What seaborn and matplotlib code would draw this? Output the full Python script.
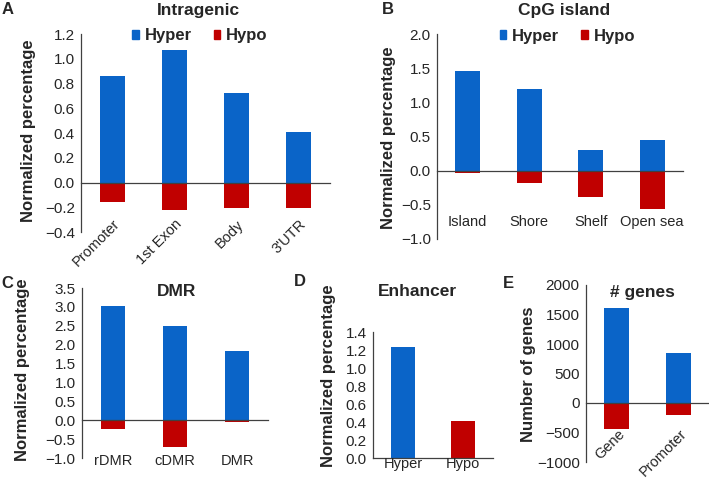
import numpy as np
import matplotlib
matplotlib.use('Agg')
import matplotlib.pyplot as plt
from matplotlib.patches import Patch
from matplotlib.ticker import FuncFormatter
import seaborn as sns

# data
intragenic_cats = ['Promoter', '1st Exon', 'Body', "3'UTR"]
intragenic_hyper = [0.86, 1.07, 0.72, 0.41]
intragenic_hypo = [-0.16, -0.22, -0.21, -0.21]

cpg_cats = ['Island', 'Shore', 'Shelf', 'Open sea']
cpg_hyper = [1.46, 1.19, 0.30, 0.45]
cpg_hypo = [-0.03, -0.18, -0.39, -0.56]

dmr_cats = ['rDMR', 'cDMR', 'DMR']
dmr_hyper = [3.02, 2.50, 1.82]
dmr_hypo = [-0.24, -0.71, -0.05]

enh_cats = ['Hyper', 'Hypo']
enh_vals = [1.23, 0.41]

gene_cats = ['Gene', 'Promoter']
gene_hyper = [1610, 840]
gene_hypo = [-440, -200]

BLUE = '#0A64C8'
RED = '#C00000'
AXC = '#404040'

sns.set_style('white')
plt.rcParams['font.family'] = ['Liberation Sans', 'DejaVu Sans']

W, H = 709, 480
fig = plt.figure(figsize=(W / 100, H / 100), dpi=100)


def px_axes(l, t, r, b):
    return fig.add_axes([l / W, 1 - b / H, (r - l) / W, (b - t) / H])


def fig_text(x, y, s, **kw):
    fig.text(x / W, 1 - y / H, s, **kw)


def style(ax, n, ylim, step, fmt):
    ax.set_xlim(-0.5, n - 0.5)
    ax.set_ylim(*ylim)
    ax.set_yticks(np.arange(ylim[0], ylim[1] + step / 2, step))
    ax.yaxis.set_major_formatter(
        FuncFormatter(lambda v, p: fmt.format(v + 0.0).replace('-', '\u2212')))
    ax.set_xticks(np.arange(-0.5, n, 1.0))
    ax.set_xticklabels([])
    for s in ['top', 'right']:
        ax.spines[s].set_visible(False)
    ax.spines['bottom'].set_position(('data', 0))
    for s in ['left', 'bottom']:
        ax.spines[s].set_color(AXC)
        ax.spines[s].set_linewidth(0.9)
    ax.tick_params(axis='both', direction='out', length=3, width=0.8, color=AXC,
                   labelsize=11, pad=1.5)
    ax.set_xlabel('')
    ax.set_ylabel('')


def cat_labels(ax, cats, dy, rot=0, dx=0):
    for i, c in enumerate(cats):
        if rot:
            ax.annotate(c, (i, 0), xycoords=('data', 'axes fraction'),
                        xytext=(dx, dy), textcoords='offset pixels',
                        rotation=rot, rotation_mode='anchor',
                        ha='right', va='center', fontsize=10.5)
        else:
            ax.annotate(c, (i, 0), xycoords=('data', 'axes fraction'),
                        xytext=(0, dy), textcoords='offset pixels',
                        ha='center', va='center', fontsize=10.5)


def legend(ax, x):
    handles = [Patch(color=BLUE, label='Hyper'), Patch(color=RED, label='Hypo')]
    ax.legend(handles=handles, loc='center', bbox_to_anchor=(x, 0.99), ncol=2,
              frameon=False, handlelength=0.4, handleheight=0.4,
              handletextpad=0.35, columnspacing=1.3,
              prop={'weight': 'bold', 'size': 12})


bar_kw = dict(width=0.4, saturation=1, linewidth=0)

# A: intragenic
axA = px_axes(81, 34, 330, 232)
sns.barplot(x=intragenic_cats, y=intragenic_hyper, color=BLUE, ax=axA, **bar_kw)
sns.barplot(x=intragenic_cats, y=intragenic_hypo, color=RED, ax=axA, **bar_kw)
style(axA, 4, (-0.4, 1.2), 0.2, '{:.1f}')
cat_labels(axA, intragenic_cats, 10, rot=45, dx=5)
legend(axA, 0.478)

# B: CpG island
axB = px_axes(437, 34, 683, 239)
sns.barplot(x=cpg_cats, y=cpg_hyper, color=BLUE, ax=axB, **bar_kw)
sns.barplot(x=cpg_cats, y=cpg_hypo, color=RED, ax=axB, **bar_kw)
style(axB, 4, (-1.0, 2.0), 0.5, '{:.1f}')
cat_labels(axB, cpg_cats, 17)
legend(axB, 0.53)

# C: DMR
axC = px_axes(82, 288, 268, 458)
sns.barplot(x=dmr_cats, y=dmr_hyper, color=BLUE, ax=axC, **bar_kw)
sns.barplot(x=dmr_cats, y=dmr_hypo, color=RED, ax=axC, **bar_kw)
style(axC, 3, (-1.0, 3.5), 0.5, '{:.1f}')
cat_labels(axC, dmr_cats, -3)

# D: enhancer
axD = px_axes(373, 332, 493, 458)
sns.barplot(x=enh_cats, y=enh_vals, hue=enh_cats, palette=[BLUE, RED],
            legend=False, ax=axD, **bar_kw)
style(axD, 2, (0.0, 1.4), 0.2, '{:.1f}')
cat_labels(axD, enh_cats, -6)

# E: number of genes
axE = px_axes(586, 285, 709, 462)
sns.barplot(x=gene_cats, y=gene_hyper, color=BLUE, ax=axE, **bar_kw)
sns.barplot(x=gene_cats, y=gene_hypo, color=RED, ax=axE, **bar_kw)
style(axE, 2, (-1000, 2000), 500, '{:.0f}')
cat_labels(axE, gene_cats, 30, rot=45, dx=6)

# titles, panel letters and y labels
tkw = dict(ha='center', va='center', fontsize=12.5, fontweight='bold')
fig_text(198, 10, 'Intragenic', **tkw)
fig_text(564, 10, 'CpG island', **tkw)
fig_text(177, 292, 'DMR', **tkw)
fig_text(417, 292, 'Enhancer', **tkw)
fig_text(642, 292, '# genes', **tkw)

lkw = dict(ha='center', va='center', fontsize=12, fontweight='bold')
for x, y, s in [(8, 10, 'A'), (388, 10, 'B'), (7, 283, 'C'), (300, 282, 'D'), (508, 283, 'E')]:
    fig_text(x, y, s, **lkw)

ykw = dict(ha='center', va='center', rotation=90, fontsize=12, fontweight='bold')
fig_text(29, 131, 'Normalized percentage', **ykw)
fig_text(388, 138, 'Normalized percentage', **ykw)
fig_text(23, 370, 'Normalized percentage', **ykw)
fig_text(328, 376, 'Normalized percentage', **ykw)
fig_text(528, 374, 'Number of genes', **ykw)

fig.savefig('out.png', dpi=100)
